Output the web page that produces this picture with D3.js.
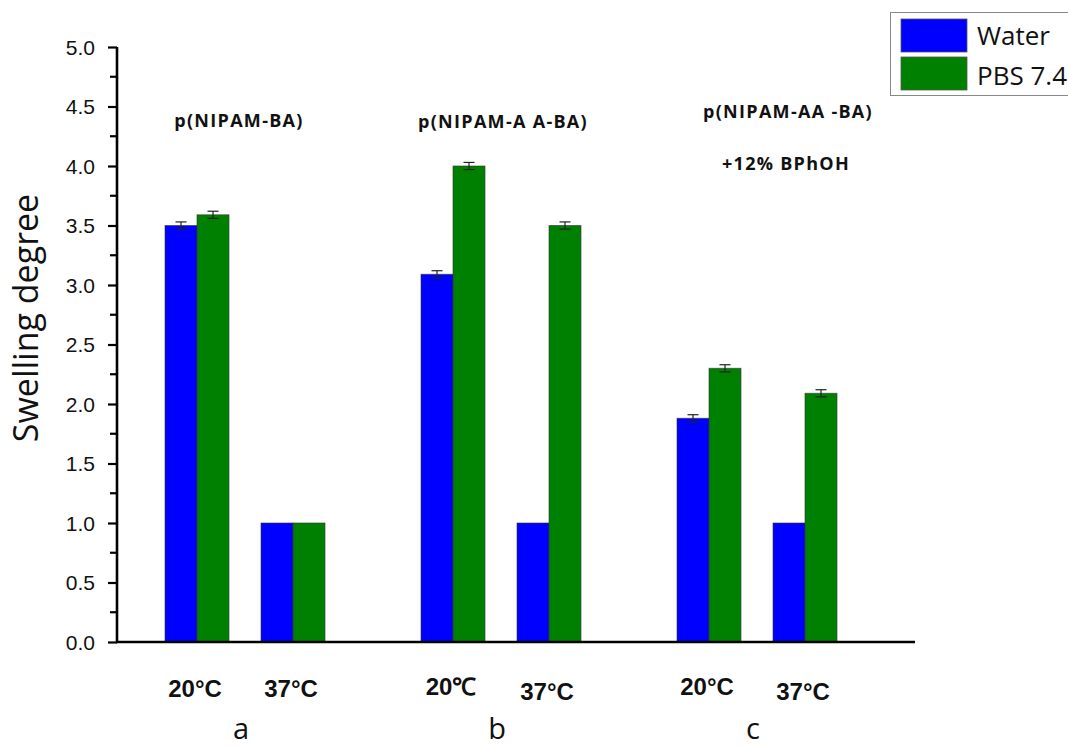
<!DOCTYPE html>
<html>
<head>
<meta charset="utf-8">
<script src="https://cdn.jsdelivr.net/npm/d3@7"></script>
<style>
  body { margin: 0; background: #fff; }
  svg { display: block; }
</style>
</head>
<body>
<script>
// data
const groups = ["a", "b", "c"];
const temps = ["20", "37"];
const series = ["Water", "PBS 7.4"];
const colors = ["#0000ff", "#008000"];
// values[group][temp] = [water, pbs]
const water = [[3.50, 1.00], [3.09, 1.00], [1.88, 1.00]];
const pbs = [[3.59, 1.00], [4.00, 3.50], [2.30, 2.09]];
const waterErr = [[0.03, 0], [0.03, 0], [0.03, 0]];
const pbsErr = [[0.03, 0], [0.03, 0.03], [0.03, 0.03]];
const tempLabels = [["20°C", "37°C"], ["20℃", "37°C"], ["20°C", "37°C"]];
const groupTitles = [["p(NIPAM-BA)"], ["p(NIPAM-A A-BA)"], ["p(NIPAM-AA -BA)", "+12% BPhOH"]];
const yTicks = [0, 0.5, 1, 1.5, 2, 2.5, 3, 3.5, 4, 4.5, 5];

const width = 1068, height = 747;
const svg = d3.select("body").append("svg")
  .attr("width", width).attr("height", height);

const y = d3.scaleLinear().domain([0, 5]).range([642, 47]);
const x0 = d3.scaleBand().domain(groups).range([117, 885]);
const x1 = d3.scaleBand().domain(temps).range([32, 224]);
const x2 = d3.scaleBand().domain(series).range([16, 80]);

const rows = [];
groups.forEach((g, gi) => temps.forEach((t, ti) => {
  rows.push({g, t, s: series[0], v: water[gi][ti], e: waterErr[gi][ti], c: colors[0]});
  rows.push({g, t, s: series[1], v: pbs[gi][ti], e: pbsErr[gi][ti], c: colors[1]});
}));
const bx = d => x0(d.g) + x1(d.t) + x2(d.s);

// bars
svg.append("g").selectAll("rect").data(rows).enter().append("rect")
  .attr("x", bx)
  .attr("y", d => y(d.v))
  .attr("width", x2.bandwidth())
  .attr("height", d => y(0) - y(d.v))
  .attr("fill", d => d.c)
  .attr("stroke", "#333")
  .attr("stroke-opacity", 0.6)
  .attr("stroke-width", 1);

// error bars
const eb = svg.append("g").attr("stroke", "#222").attr("stroke-width", 1.2);
rows.filter(d => d.e > 0).forEach(d => {
  const cx = bx(d) + x2.bandwidth() / 2;
  eb.append("line").attr("x1", cx).attr("x2", cx).attr("y1", y(d.v + d.e)).attr("y2", y(d.v - d.e));
  [d.v + d.e, d.v - d.e].forEach(v => {
    eb.append("line").attr("x1", cx - 5.5).attr("x2", cx + 5.5).attr("y1", y(v)).attr("y2", y(v));
  });
});

// y axis
const yAxis = svg.append("g").attr("transform", "translate(117,0)")
  .call(d3.axisLeft(y).tickValues(yTicks).tickSize(9).tickFormat(d3.format(".1f")));
yAxis.select(".domain").attr("stroke-width", 2.6).attr("d", "M0,47V643");
yAxis.selectAll(".tick line").attr("stroke-width", 2.2);
yAxis.selectAll(".tick text")
  .attr("font-family", "Liberation Sans, Arial, sans-serif")
  .attr("font-size", 21).attr("fill", "#111").attr("x", -22).attr("dy", "0.35em");
// minor ticks
svg.append("g").selectAll("line").data(d3.range(0.25, 5, 0.5)).enter().append("line")
  .attr("x1", 110).attr("x2", 117).attr("y1", d => y(d)).attr("y2", d => y(d))
  .attr("stroke", "#000").attr("stroke-width", 2.2);

// x axis line
svg.append("line").attr("x1", 116).attr("x2", 915).attr("y1", y(0)).attr("y2", y(0))
  .attr("stroke", "#000").attr("stroke-width", 2.6);

// y label
svg.append("text")
  .attr("transform", "translate(38,318) rotate(-90)")
  .attr("text-anchor", "middle")
  .attr("font-family", "Open Sans, sans-serif")
  .attr("font-size", 34).attr("fill", "#111")
  .text("Swelling degree");

// temperature labels
const tempBase = [[697, 697], [695, 700], [695, 700]];
groups.forEach((g, gi) => temps.forEach((t, ti) => {
  svg.append("text")
    .attr("x", x0(g) + x1(t) + x1.bandwidth() / 2 - 2)
    .attr("y", tempBase[gi][ti])
    .attr("text-anchor", "middle")
    .attr("font-family", "Liberation Sans, Arial, sans-serif")
    .attr("font-weight", "bold").attr("font-size", 24).attr("fill", "#111")
    .text(tempLabels[gi][ti]);
}));

// group letters
groups.forEach(g => {
  svg.append("text")
    .attr("x", x0(g) + x0.bandwidth() / 2 - 4)
    .attr("y", 739)
    .attr("text-anchor", "middle")
    .attr("font-family", "Open Sans, sans-serif")
    .attr("font-size", 29).attr("fill", "#111")
    .text(g);
});

// group titles
const titlePos = [[{x: 239, y: 127}], [{x: 503, y: 128}], [{x: 788, y: 118}, {x: 786, y: 170}]];
groupTitles.forEach((lines, gi) => lines.forEach((txt, li) => {
  svg.append("text")
    .attr("x", titlePos[gi][li].x).attr("y", titlePos[gi][li].y)
    .attr("text-anchor", "middle")
    .attr("font-family", "Open Sans, sans-serif")
    .attr("font-weight", "bold").attr("font-size", 18).attr("fill", "#111")
    .attr("letter-spacing", 1.3)
    .text(txt);
}));

// legend
const lg = svg.append("g");
lg.append("rect").attr("x", 890.5).attr("y", 12.5).attr("width", 200).attr("height", 83)
  .attr("fill", "#fff").attr("stroke", "#888").attr("stroke-width", 1);
series.forEach((s, i) => {
  lg.append("rect").attr("x", 901).attr("y", 19 + i * 38).attr("width", 66).attr("height", 33)
    .attr("fill", colors[i]).attr("stroke", "#555").attr("stroke-width", 0.8);
  lg.append("text").attr("x", 977).attr("y", 45 + i * 40)
    .attr("font-family", "Open Sans, sans-serif")
    .attr("font-size", 26).attr("fill", "#111")
    .text(s);
});
</script>
</body>
</html>
